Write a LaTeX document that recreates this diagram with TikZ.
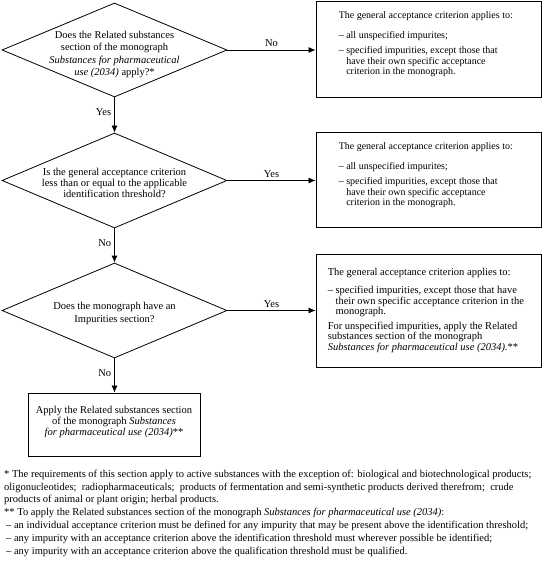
\documentclass[tikz,border=0pt]{standalone}
\usepackage{fontspec}
\setmainfont{Liberation Serif}
\usetikzlibrary{shapes.geometric,arrows.meta,calc}
\begin{document}
\begin{tikzpicture}[x=1pt,y=-1pt,
  every node/.style={inner sep=0pt, font=\fontsize{10.5}{11}\selectfont},
  dia/.style={diamond, draw, line width=0.8pt, minimum width=225pt, minimum height=95pt},
  dtxt/.style={align=center, yshift=-2.5pt},
  box/.style={rectangle, draw, line width=0.9pt},
  txt/.style={anchor=north west, align=left, font=\fontsize{10}{10.5}\selectfont},
  arr/.style={line width=0.8pt, -{Latex[length=7pt,width=6pt]}},
  hlab/.style={pos=0.5, anchor=base, yshift=3.5pt},
  vlab/.style={pos=0.5, anchor=east, xshift=-3pt, yshift=2.5pt}]
\useasboundingbox (0,0) rectangle (543,572);

% decisions
\node[dia, minimum height=94pt] (d1) at (114.5,50) {};
\node[dtxt, font=\fontsize{10.5}{12.5}\selectfont, yshift=-2pt] (d1t) at (d1.center)
  {Does the Related substances\\ section of the monograph\\ \textit{Substances for pharmaceutical}\\ \textit{use (2034)} apply?*};
\node[dia] (d2) at (114.5,180.5) {};
\node[dtxt, font=\fontsize{10.5}{11}\selectfont] (d2t) at (d2.center)
  {Is the general acceptance criterion\\ less than or equal to the applicable\\ identification threshold?};
\node[dia] (d3) at (114.5,310.5) {};
\node[dtxt, font=\fontsize{10.5}{13}\selectfont] (d3t) at (d3.center)
  {Does the monograph have an\\ Impurities section?};
\node[box, minimum width=172pt, minimum height=63pt, align=center, font=\fontsize{10.5}{11}\selectfont] (b4) at (114,424.5)
  {Apply the Related substances section\\ of the monograph \textit{Substances}\\ \textit{for pharmaceutical use (2034)}**\\[-3pt]\mbox{}};

% result boxes
\node[box, minimum width=225pt, minimum height=96pt] (b1) at (428.5,49) {};
\node[txt] (t1) at ($(b1.north west)+(23,11)$)
  {The general acceptance criterion applies to:\\[9pt]
   \textendash\ all unspecified impurites;\\[5pt]
   \textendash\ specified impurities, except those that\\
   \hphantom{\textendash\ }have their own specific acceptance\\
   \hphantom{\textendash\ }criterion in the monograph.};

\node[box, minimum width=225pt, minimum height=95pt] (b2) at (428.5,179.5) {};
\node[txt] (t2) at ($(b2.north west)+(23,11)$)
  {The general acceptance criterion applies to:\\[9pt]
   \textendash\ all unspecified impurites;\\[5pt]
   \textendash\ specified impurities, except those that\\
   \hphantom{\textendash\ }have their own specific acceptance\\
   \hphantom{\textendash\ }criterion in the monograph.};

\node[box, minimum width=225pt, minimum height=113pt] (b3) at (428.5,310.5) {};
\node[txt, font=\fontsize{10.5}{10.5}\selectfont] (t3) at ($(b3.north west)+(12,14)$)
  {The general acceptance criterion applies to:\\[8pt]
   \textendash\ specified impurities, except those that have\\
   \hphantom{\textendash\ }their own specific acceptance criterion in the\\
   \hphantom{\textendash\ }monograph.\\[4pt]
   For unspecified impurities, apply the Related\\
   substances section of the monograph\\
   \textit{Substances for pharmaceutical use (2034).}**};

% connectors
\draw[arr] (d1.east) -- (d1.east -| b1.west) node[hlab] {No};
\draw[arr] (d2.east) -- (d2.east -| b2.west) node[hlab] {Yes};
\draw[arr] (d3.east) -- (d3.east -| b3.west) node[hlab] {Yes};
\draw[arr] (d1.south) -- (d2.north) node[vlab] {Yes};
\draw[arr] (d2.south) -- (d3.north) node[vlab] {No};
\draw[arr] (d3.south) -- (d3.south |- b4.north) node[vlab] {No};

% footnotes
\node[anchor=north west, align=left, font=\fontsize{10.5}{12.9}\selectfont] (fn) at (4,469.5)
  {* The requirements of this section apply to active substances with the exception of: biological and biotechnological products;\\
   oligonucleotides;\ \ radiopharmaceuticals;\ \ products of fermentation and semi-synthetic products derived therefrom;\ \ crude\\
   products of animal or plant origin; herbal products.\\
   ** To apply the Related substances section of the monograph \textit{Substances for pharmaceutical use (2034)}:\\
   \hspace*{2pt}\textendash\ an individual acceptance criterion must be defined for any impurity that may be present above the identification threshold;\\
   \hspace*{2pt}\textendash\ any impurity with an acceptance criterion above the identification threshold must wherever possible be identified;\\
   \hspace*{2pt}\textendash\ any impurity with an acceptance criterion above the qualification threshold must be qualified.};
\end{tikzpicture}
\end{document}
